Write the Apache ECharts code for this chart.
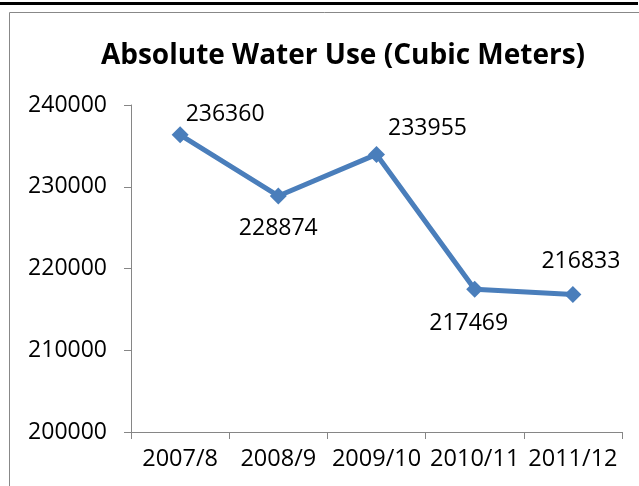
<!DOCTYPE html>
<html>
<head>
<meta charset="utf-8">
<script src="https://cdn.jsdelivr.net/npm/echarts@6/dist/echarts.min.js"></script>
<style>
  html, body { margin: 0; padding: 0; background: #fff; }
  #chart { width: 639px; height: 486px; }
</style>
</head>
<body>
<div id="chart"></div>
<script>
// data
const years = ['2007/8', '2008/9', '2009/10', '2010/11', '2011/12']
const waterUse = [236360, 228874, 233955, 217469, 216833]
// where each value label sits relative to its marker
const labelOffsets = [[45, -20], [0, 32], [51, -26], [-6, 34], [8, -33]]

const FONT = '"Open Sans", "Liberation Sans", sans-serif'
const BLUE = '#4A7EBB'

const chart = echarts.init(document.getElementById('chart'))

chart.setOption({
  animation: false,
  title: {
    text: 'Absolute Water Use (Cubic Meters)',
    left: 338,
    textAlign: 'center',
    top: 37,
    textStyle: { fontFamily: FONT, fontWeight: 'bold', fontSize: 28, color: '#000' },
  },
  graphic: [
    // black rule at the very top
    { type: 'line', shape: { x1: 0, y1: 3.5, x2: 638, y2: 3.5 }, style: { stroke: '#000', lineWidth: 3 } },
    // chart frame (only top and left edges visible)
    { type: 'polyline', shape: { points: [[9.5, 486], [9.5, 12.5], [639, 12.5]] }, style: { stroke: '#888', lineWidth: 1, fill: null } },
  ],
  grid: { left: 131, right: 17, top: 105, bottom: 54 },
  xAxis: {
    type: 'category',
    data: years,
    boundaryGap: true,
    axisLine: { lineStyle: { color: '#868686', width: 1 } },
    axisTick: { show: true, length: 7, interval: 0, lineStyle: { color: '#868686' } },
    axisLabel: { color: '#000', fontFamily: FONT, fontSize: 23.5, margin: 15, interval: 0 },
  },
  yAxis: {
    type: 'value',
    min: 200000,
    max: 240000,
    interval: 10000,
    axisLine: { show: true, lineStyle: { color: '#868686', width: 1 } },
    axisTick: { show: true, length: 7, lineStyle: { color: '#868686' } },
    splitLine: { show: false },
    axisLabel: { color: '#000', fontFamily: FONT, fontSize: 23, margin: 24, formatter: v => String(v) },
  },
  series: [{
    type: 'line',
    data: waterUse.map((v, i) => ({
      value: v,
      label: { offset: labelOffsets[i] },
    })),
    symbol: 'diamond',
    symbolSize: 17,
    itemStyle: { color: BLUE },
    lineStyle: { color: BLUE, width: 5 },
    label: {
      show: true,
      position: 'inside',
      color: '#000',
      fontFamily: FONT,
      fontSize: 23,
    },
  }],
})
</script>
</body>
</html>
